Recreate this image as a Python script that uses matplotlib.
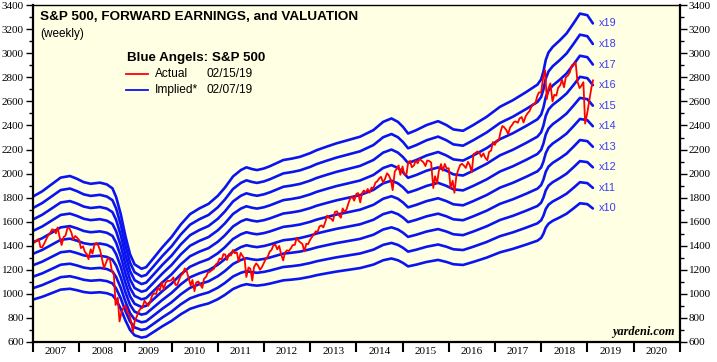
import numpy as np
import pandas as pd
import matplotlib
matplotlib.use("Agg")
import matplotlib.pyplot as plt
from matplotlib.ticker import MultipleLocator, FixedLocator, NullFormatter

# ------------------------------------------------------------
# Data
# ------------------------------------------------------------
# forward earnings per share, sampled at decimal-year dates
eps_dates = [2007.00, 2007.20, 2007.40, 2007.60, 2007.80, 2007.95, 2008.10, 2008.25,
             2008.45, 2008.60, 2008.72, 2008.80, 2008.90, 2009.00, 2009.10, 2009.20,
             2009.35, 2009.45, 2009.60, 2009.80, 2010.00, 2010.20, 2010.40, 2010.60,
             2010.80, 2011.00, 2011.15, 2011.33, 2011.50, 2011.62, 2011.75, 2011.85,
             2012.00, 2012.13, 2012.42, 2012.60, 2012.78, 2013.00, 2013.14, 2013.35,
             2013.57, 2013.80, 2014.08, 2014.37, 2014.58, 2014.76, 2014.90, 2015.01,
             2015.12, 2015.30, 2015.52, 2015.77, 2015.95, 2016.10, 2016.31, 2016.53,
             2016.82, 2017.11, 2017.39, 2017.68, 2017.92, 2018.00, 2018.05, 2018.10,
             2018.16, 2018.25, 2018.40, 2018.55, 2018.70, 2018.84, 2019.00, 2019.12]
fwd_eps = [95.2, 97.5, 100.5, 103.5, 104.2, 103.0, 101.5, 100.8,
           101.3, 100.5, 98.8, 95.0, 87.5, 78.0, 70.0, 65.5,
           63.6, 64.3, 68.0, 73.0, 77.5, 83.0, 87.5, 90.0,
           92.0, 95.5, 99.0, 104.0, 106.8, 108.0, 107.2, 106.8,
           107.5, 108.5, 111.2, 111.8, 112.6, 114.2, 115.5, 117.0,
           118.5, 119.8, 121.4, 124.3, 127.9, 129.4, 127.9, 125.7,
           122.8, 124.3, 126.5, 128.2, 126.5, 124.6, 124.0, 126.5,
           130.1, 134.5, 137.4, 141.0, 144.2, 146.5, 150.0, 155.0,
           158.3, 160.7, 163.5, 166.6, 171.0, 175.3, 174.6, 171.0]
multiples = [10, 11, 12, 13, 14, 15, 16, 17, 18, 19]

# S&P 500 actual, semi-monthly (1st and 15th) from Jan 2007 to Feb 15 2019
spx_2007 = [1418, 1431, 1445, 1456, 1388, 1387, 1420, 1452, 1486, 1501, 1536, 1533,
            1503, 1552, 1465, 1406, 1473, 1484, 1547, 1548, 1508, 1451, 1481, 1467]
spx_2008 = [1447, 1380, 1395, 1349, 1331, 1288, 1370, 1334, 1409, 1423, 1400, 1360,
            1280, 1214, 1260, 1298, 1282, 1192, 1161, 907, 968, 770, 850, 880]
spx_2009 = [903, 850, 826, 770, 683, 768, 811, 852, 877, 882, 942, 921,
            900, 932, 987, 1004, 998, 1052, 1029, 1096, 1036, 1093, 1108, 1107]
spx_2010 = [1115, 1136, 1074, 1075, 1115, 1150, 1169, 1211, 1187, 1135, 1070, 1115,
            1022, 1095, 1102, 1079, 1049, 1125, 1141, 1176, 1184, 1197, 1206, 1242]
spx_2011 = [1258, 1293, 1286, 1330, 1327, 1281, 1332, 1319, 1364, 1338, 1345, 1268,
            1340, 1316, 1292, 1140, 1219, 1209, 1110, 1224, 1253, 1236, 1200, 1220]
spx_2012 = [1258, 1289, 1312, 1350, 1366, 1402, 1408, 1370, 1398, 1330, 1278, 1342,
            1362, 1356, 1379, 1405, 1407, 1465, 1441, 1428, 1412, 1353, 1416, 1413]
spx_2013 = [1450, 1472, 1498, 1520, 1515, 1560, 1569, 1552, 1598, 1650, 1631, 1626,
            1606, 1680, 1686, 1655, 1633, 1710, 1682, 1700, 1757, 1798, 1806, 1775]
spx_2014 = [1831, 1838, 1760, 1838, 1859, 1841, 1872, 1842, 1884, 1877, 1924, 1936,
            1960, 1973, 1925, 1955, 2003, 1985, 1946, 1862, 2018, 2039, 2068, 1990]
spx_2015 = [2059, 1992, 1995, 2097, 2105, 2053, 2068, 2106, 2086, 2122, 2107, 2094,
            2063, 2108, 2104, 2092, 1880, 1978, 1920, 2023, 2079, 2023, 2080, 2043]
spx_2016 = [2044, 1880, 1940, 1840, 1978, 2028, 2072, 2081, 2065, 2047, 2097, 2071,
            2010, 2162, 2173, 2184, 2171, 2139, 2168, 2133, 2111, 2180, 2191, 2262]
spx_2017 = [2239, 2275, 2279, 2350, 2396, 2385, 2362, 2329, 2384, 2402, 2430, 2433,
            2423, 2459, 2470, 2425, 2476, 2500, 2519, 2553, 2579, 2578, 2642, 2675]
spx_2018 = [2674, 2786, 2860, 2620, 2714, 2750, 2600, 2656, 2648, 2712, 2735, 2780,
            2718, 2801, 2816, 2840, 2901, 2905, 2924, 2767, 2711, 2730, 2760, 2416]
spx_2019 = [2507, 2596, 2707, 2775]

year_labels = [str(y) for y in range(2007, 2021)]

# ------------------------------------------------------------
# Build series
# ------------------------------------------------------------
spx = (spx_2007 + spx_2008 + spx_2009 + spx_2010 + spx_2011 + spx_2012 + spx_2013
       + spx_2014 + spx_2015 + spx_2016 + spx_2017 + spx_2018 + spx_2019)
spx_dates = pd.date_range("2007-01-01", "2019-02-15", freq="SMS")
spx_x = spx_dates.year + (spx_dates.dayofyear - 1) / 365.25
assert len(spx_x) == len(spx)

eps_x = np.array(eps_dates)
eps = np.array(fwd_eps)

# ------------------------------------------------------------
# Plot
# ------------------------------------------------------------
BG = "#FFFFE3"
BLUE = "#0A14F0"
LABEL_BLUE = "#3A3AF5"
SANS = "Liberation Sans"
SERIF = "Liberation Serif"

fig = plt.figure(figsize=(7.17, 3.62), dpi=100)
ax = fig.add_axes([0.046, 0.0555, 0.902, 0.930])
ax.set_facecolor(BG)

for m in multiples:
    ax.plot(eps_x, eps * m, color=BLUE, lw=1.9, solid_capstyle="round")
    ax.text(eps_x[-1] + 0.12, eps[-1] * m, f"x{m}", color=LABEL_BLUE,
            fontsize=7.8, family=SANS, va="center", ha="left")

ax.plot(spx_x, spx, color="#FF0000", lw=1.3)

ax.set_xlim(2007, 2021)
ax.set_ylim(600, 3400)

# y axis on both sides, serif labels
ax.yaxis.set_major_locator(MultipleLocator(200))
ax.yaxis.set_minor_locator(MultipleLocator(100))
ax.tick_params(axis="y", which="both", left=True, right=True,
               labelleft=True, labelright=True, direction="out", width=1.0)
ax.tick_params(axis="y", which="major", length=5, pad=1.5)
ax.tick_params(axis="y", which="minor", length=3)

# x axis: ticks at year boundaries, labels centred in each year
ax.xaxis.set_major_locator(FixedLocator(np.arange(2007, 2022)))
ax.xaxis.set_major_formatter(NullFormatter())
ax.xaxis.set_minor_locator(FixedLocator(np.arange(2007, 2021) + 0.5))
ax.set_xticklabels(year_labels, minor=True)
ax.tick_params(axis="x", which="major", direction="out", length=7, width=1.5)
ax.tick_params(axis="x", which="minor", length=0, pad=4)

for lab in ax.get_xticklabels(which="minor"):
    lab.set_family(SERIF)
    lab.set_fontsize(8)
for t in ax.yaxis.get_major_ticks():
    for lab in (t.label1, t.label2):
        lab.set_family(SERIF)
        lab.set_fontsize(8)

for side in ["left", "right", "bottom"]:
    ax.spines[side].set_linewidth(1.6)
ax.spines["top"].set_linewidth(1.0)

# titles
ax.text(0.011, 0.965, "S&P 500, FORWARD EARNINGS, and VALUATION", transform=ax.transAxes,
        fontsize=9.7, fontweight="bold", family=SANS, va="center")
ax.text(0.011, 0.916, "(weekly)", transform=ax.transAxes,
        fontsize=8.5, family=SANS, va="center")

# legend block
ax.text(0.145, 0.843, "Blue Angels: S&P 500", transform=ax.transAxes,
        fontsize=9.6, fontweight="bold", family=SANS, va="center")
ax.plot([0.144, 0.178], [0.797, 0.797], transform=ax.transAxes, color="#FF0000", lw=1.3)
ax.plot([0.144, 0.178], [0.749, 0.749], transform=ax.transAxes, color=BLUE, lw=1.3)
ax.text(0.189, 0.797, "Actual", transform=ax.transAxes,
        fontsize=8.6, family=SANS, va="center")
ax.text(0.268, 0.797, "02/15/19", transform=ax.transAxes,
        fontsize=8.6, family=SANS, va="center")
ax.text(0.189, 0.749, "Implied*", transform=ax.transAxes,
        fontsize=8.6, family=SANS, va="center")
ax.text(0.268, 0.749, "02/07/19", transform=ax.transAxes,
        fontsize=8.6, family=SANS, va="center")

ax.text(0.993, 0.028, "yardeni.com", transform=ax.transAxes, ha="right", va="center",
        fontsize=8.8, fontweight="bold", fontstyle="italic", family=SERIF)

fig.savefig("out.png", dpi=100, facecolor="white")
